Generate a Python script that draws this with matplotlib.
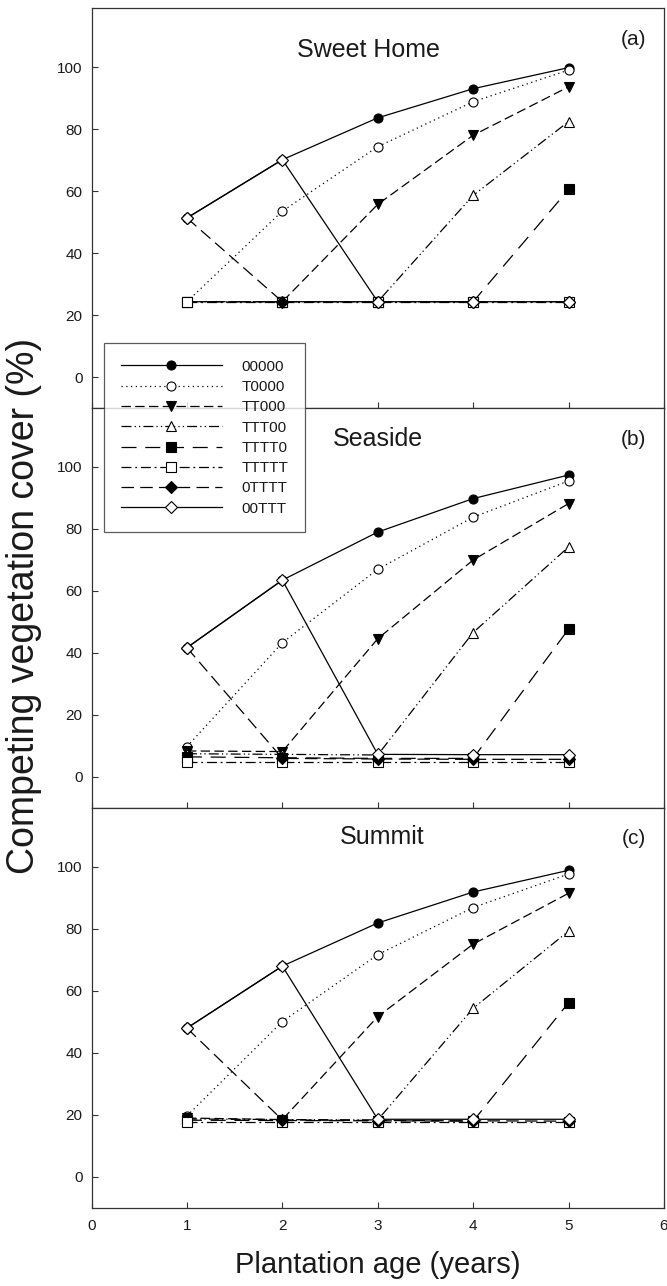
import matplotlib
matplotlib.use("Agg")
import matplotlib.pyplot as plt

plt.rcParams['font.family'] = ['Liberation Sans', 'DejaVu Sans']

# plantation age (years)
years = [1, 2, 3, 4, 5]
treatments = ["00000", "T0000", "TT000", "TTT00", "TTTT0", "TTTTT", "0TTTT", "00TTT"]

# competing vegetation cover (%), one list per treatment
sweet_home = {
    "00000": [51.3, 70.1, 83.6, 93.0, 99.8],
    "T0000": [24.3, 53.5, 74.3, 88.8, 99.0],
    "TT000": [24.3, 24.3, 55.7, 78.0, 93.6],
    "TTT00": [24.3, 24.3, 24.3, 58.6, 82.4],
    "TTTT0": [24.3, 24.3, 24.3, 24.3, 60.5],
    "TTTTT": [24.3, 24.3, 24.3, 24.3, 24.3],
    "0TTTT": [51.3, 24.3, 24.3, 24.3, 24.3],
    "00TTT": [51.3, 70.1, 24.3, 24.3, 24.3],
}
seaside = {
    "00000": [41.7, 63.5, 79.0, 89.8, 97.4],
    "T0000": [9.8, 43.3, 67.0, 83.8, 95.5],
    "TT000": [8.4, 8.2, 44.6, 70.0, 88.2],
    "TTT00": [7.5, 7.3, 7.1, 46.6, 74.2],
    "TTTT0": [6.5, 6.2, 6.0, 6.0, 47.7],
    "TTTTT": [4.8, 4.8, 4.8, 4.8, 4.8],
    "0TTTT": [41.7, 6.0, 5.8, 5.7, 5.7],
    "00TTT": [41.7, 63.5, 7.3, 7.2, 7.2],
}
summit = {
    "00000": [48.0, 68.0, 81.9, 91.9, 98.9],
    "T0000": [19.7, 50.1, 71.7, 86.9, 97.7],
    "TT000": [19.0, 18.5, 51.7, 75.1, 91.5],
    "TTT00": [18.7, 18.5, 18.4, 54.4, 79.3],
    "TTTT0": [18.3, 18.2, 18.1, 18.0, 56.2],
    "TTTTT": [17.8, 17.8, 17.8, 17.8, 17.8],
    "0TTTT": [48.0, 18.4, 18.2, 18.1, 18.0],
    "00TTT": [48.0, 68.0, 18.6, 18.6, 18.6],
}
sites = ["Sweet Home", "Seaside", "Summit"]
panel_tags = ["(a)", "(b)", "(c)"]
site_data = [sweet_home, seaside, summit]

# line / marker style for each treatment
styles = {
    "00000": dict(ls="-", marker="o", mfc="black"),
    "T0000": dict(ls=(0, (1, 2.8)), marker="o", mfc="white"),
    "TT000": dict(ls=(0, (7.5, 3.5)), marker="v", mfc="black"),
    "TTT00": dict(ls=(0, (8, 2.5, 1, 2.5, 1, 2.5)), marker="^", mfc="white"),
    "TTTT0": dict(ls=(0, (12, 7)), marker="s", mfc="black"),
    "TTTTT": dict(ls=(0, (8, 3, 1.5, 3)), marker="s", mfc="white"),
    "0TTTT": dict(ls=(0, (10, 5)), marker="D", mfc="black"),
    "00TTT": dict(ls="-", marker="D", mfc="white"),
}

fig = plt.figure(figsize=(6.67, 12.86), dpi=100)
left, width, height = 0.1372, 0.8583, 0.3110
bottoms = [0.6827, 0.3717, 0.0607]
text_col = "#1a1a1a"

axes = []
for i, (site, tag, data) in enumerate(zip(sites, panel_tags, site_data)):
    ax = fig.add_axes([left, bottoms[i], width, height])
    for t in treatments:
        st = styles[t]
        ms = 6.0 if st["marker"] == "D" else 6.5
        ax.plot(years, data[t], color="black", lw=0.9, ls=st["ls"],
                marker=st["marker"], ms=ms, mfc=st["mfc"], mec="black",
                mew=0.8, label=t)
    ax.set_xlim(0, 6)
    ax.set_ylim(-10, 119)
    ax.set_xticks(range(0, 7))
    ax.set_yticks(range(0, 101, 20))
    ax.tick_params(direction="in", length=4.5, width=0.8, labelsize=11,
                   colors="#333333", labelcolor=text_col, pad=6.5)
    ax.tick_params(axis="x", pad=8)
    if i < 2:
        ax.tick_params(axis="x", labelbottom=False)
    for sp in ax.spines.values():
        sp.set_linewidth(0.9)
        sp.set_color("#333333")
    axes.append(ax)

axes[0].text(2.9, 105.5, "Sweet Home", ha="center", va="center", fontsize=18, color=text_col)
axes[1].text(3.0, 109.0, "Seaside", ha="center", va="center", fontsize=18, color=text_col)
axes[2].text(3.05, 109.5, "Summit", ha="center", va="center", fontsize=18, color=text_col)
for ax, tag in zip(axes, panel_tags):
    ax.text(5.68, 109, tag, ha="center", va="center", fontsize=15, color=text_col)

handles, labels = axes[0].get_legend_handles_labels()
leg = fig.legend(handles, labels, loc="upper left",
                 bbox_to_anchor=(104 / 667, 1 - 343 / 1286), borderaxespad=0,
                 fontsize=11, handlelength=6.6, handletextpad=1.3,
                 labelspacing=0.41, borderpad=1.1, frameon=True, fancybox=False)
leg.get_frame().set_edgecolor("#333333")
leg.get_frame().set_linewidth(0.9)
for txt in leg.get_texts():
    txt.set_color(text_col)

fig.text(0.036, 0.529, "Competing vegetation cover (%)", rotation=90,
         ha="center", va="center", fontsize=27, color=text_col)
fig.text(0.567, 0.016, "Plantation age (years)", ha="center", va="center",
         fontsize=21, color=text_col)

fig.savefig("out.png", dpi=100)
